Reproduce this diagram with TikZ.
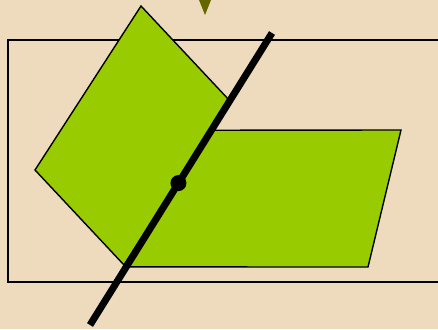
\documentclass[tikz,border=0pt]{standalone}
\usetikzlibrary{calc}
\definecolor{papier}{HTML}{EEDBBD}
\definecolor{gruen}{HTML}{99CC00}
\definecolor{oliv}{HTML}{666600}
\tikzset{
  rahmen/.style={black,line width=1.3pt},
  ebene/.style={fill=gruen,draw=black,line width=1.4pt,line join=miter},
  gerade/.style={black,line width=7pt},
  punkt/.style={fill=black},
  marke/.style={fill=oliv},
}

\begin{document}
\begin{tikzpicture}[x=1pt,y=-1pt]
  \fill[papier] (0,0) rectangle (438,329);
  \useasboundingbox (0,0) rectangle (438,329);
  % frame of the plane
  \draw[rahmen] (8,40) rectangle (450,282);
  % small marker at the top
  \fill[marke] (199,0) -- (211,0) -- (205,15) -- cycle;
  % line of intersection, end points
  \coordinate (unten) at (90,325);
  \coordinate (oben) at (272,33);
  % half plane and tilted plane
  \draw[ebene] ($(unten)!0.667!(oben)$) -- (401,130) -- (368,267)
    -- ($(unten)!0.199!(oben)$) -- cycle;
  \draw[ebene] (141,6) -- (230,101) -- (124,265) -- (35,170) -- cycle;
  \draw[gerade] (unten) -- (oben);
  \coordinate (p) at ($(unten)!0.486!(oben)$);
  \fill[punkt] (p) circle (8);
\end{tikzpicture}
\end{document}
